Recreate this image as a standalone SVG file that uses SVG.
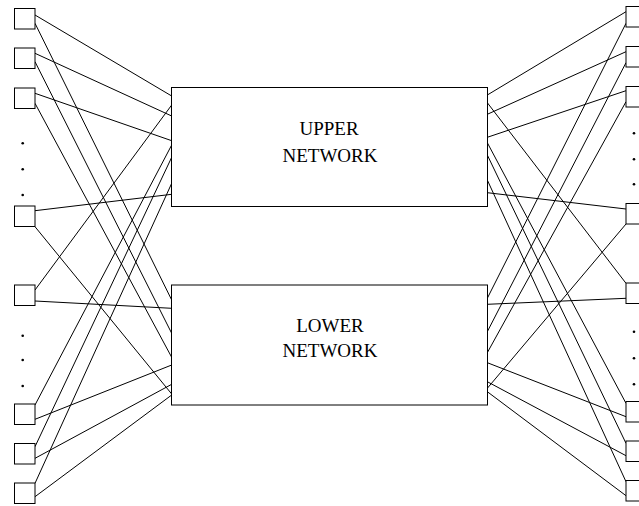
<svg xmlns="http://www.w3.org/2000/svg" width="639" height="506" viewBox="0 0 639 506">
  <style>
    .port { fill: #fff; stroke: #000; stroke-width: 1; }
    .net { fill: #fff; stroke: #000; stroke-width: 1; }
    .label { font-family: "Liberation Serif", "Times New Roman", serif; font-size: 19px; fill: #000; text-anchor: middle; }
    .link { stroke: #000; stroke-width: 1; fill: none; }
    .dot { fill: #000; }
  </style>
  <rect width="639" height="506" fill="#fff"/>

  <!-- wiring between the terminals and the two networks -->
  <g id="connectors" class="link">
    <!-- left terminals, top group -->
    <line x1="35" y1="15" x2="171.7" y2="96"/>
    <line x1="35" y1="23.3" x2="171.7" y2="300"/>
    <line x1="35" y1="53.3" x2="171.7" y2="116"/>
    <line x1="35" y1="61.7" x2="171.7" y2="333.3"/>
    <line x1="35" y1="93.3" x2="171.7" y2="140.7"/>
    <line x1="35" y1="103.3" x2="171.7" y2="357.3"/>
    <line x1="35" y1="210.7" x2="171.7" y2="194.3"/>
    <line x1="35" y1="226.7" x2="171.7" y2="394"/>
    <!-- left terminals, bottom group -->
    <line x1="35" y1="290" x2="171.7" y2="105"/>
    <line x1="35" y1="301" x2="171.7" y2="308.3"/>
    <line x1="35" y1="405" x2="171.7" y2="145"/>
    <line x1="35" y1="419.3" x2="171.7" y2="365"/>
    <line x1="35" y1="446.7" x2="171.7" y2="157.3"/>
    <line x1="35" y1="458.3" x2="171.7" y2="384.3"/>
    <line x1="35" y1="483.3" x2="171.7" y2="183.3"/>
    <line x1="35" y1="496.7" x2="171.7" y2="395"/>
    <!-- right terminals, top group -->
    <line x1="626" y1="11.7" x2="487.3" y2="95"/>
    <line x1="626" y1="23.3" x2="487.3" y2="298.3"/>
    <line x1="626" y1="51.7" x2="487.3" y2="114.3"/>
    <line x1="626" y1="62.7" x2="487.3" y2="331.7"/>
    <line x1="626" y1="90.7" x2="487.3" y2="137.3"/>
    <line x1="626" y1="101.7" x2="487.3" y2="352.7"/>
    <line x1="626" y1="209" x2="487.3" y2="192.7"/>
    <line x1="626" y1="224" x2="487.3" y2="388.3"/>
    <!-- right terminals, bottom group -->
    <line x1="626" y1="283.3" x2="487.3" y2="102.7"/>
    <line x1="626" y1="298.3" x2="487.3" y2="304.3"/>
    <line x1="626" y1="403.3" x2="487.3" y2="142.7"/>
    <line x1="626" y1="416.7" x2="487.3" y2="362.7"/>
    <line x1="626" y1="443.3" x2="487.3" y2="155"/>
    <line x1="626" y1="455.7" x2="487.3" y2="381.7"/>
    <line x1="626" y1="481.7" x2="487.3" y2="180"/>
    <line x1="626" y1="495.7" x2="487.3" y2="391.7"/>
  </g>

  <!-- switching networks -->
  <g id="upper-network">
    <rect class="net" x="171.5" y="87.5" width="316" height="119"/>
    <text class="label" x="329" y="135">UPPER</text>
    <text class="label" x="330" y="161.5">NETWORK</text>
  </g>
  <g id="lower-network">
    <rect class="net" x="171.5" y="285" width="316" height="120"/>
    <text class="label" x="330" y="331.5">LOWER</text>
    <text class="label" x="330" y="356.5">NETWORK</text>
  </g>

  <!-- left terminals -->
  <g id="in-1"><rect class="port" x="14.5" y="8.5" width="20.5" height="20.5"/></g>
  <g id="in-2"><rect class="port" x="14.5" y="48" width="20.5" height="20.5"/></g>
  <g id="in-3"><rect class="port" x="14.5" y="88" width="20.5" height="20.5"/></g>
  <g id="in-4"><rect class="port" x="14.5" y="206" width="20.5" height="20.5"/></g>
  <g id="in-5"><rect class="port" x="14.5" y="285" width="20.5" height="20.5"/></g>
  <g id="in-6"><rect class="port" x="14.5" y="404" width="20.5" height="20.5"/></g>
  <g id="in-7"><rect class="port" x="14.5" y="443.5" width="20.5" height="20.5"/></g>
  <g id="in-8"><rect class="port" x="14.5" y="483" width="20.5" height="20.5"/></g>

  <!-- right terminals -->
  <g id="out-1"><rect class="port" x="626" y="6.5" width="20.5" height="20.5"/></g>
  <g id="out-2"><rect class="port" x="626" y="46.5" width="20.5" height="20.5"/></g>
  <g id="out-3"><rect class="port" x="626" y="86.5" width="20.5" height="20.5"/></g>
  <g id="out-4"><rect class="port" x="626" y="203.5" width="20.5" height="20.5"/></g>
  <g id="out-5"><rect class="port" x="626" y="283" width="20.5" height="20.5"/></g>
  <g id="out-6"><rect class="port" x="626" y="401.5" width="20.5" height="20.5"/></g>
  <g id="out-7"><rect class="port" x="626" y="441" width="20.5" height="20.5"/></g>
  <g id="out-8"><rect class="port" x="626" y="480.5" width="20.5" height="20.5"/></g>

  <!-- elided terminals -->
  <g id="ellipses" class="dot">
    <circle cx="22.7" cy="143.3" r="1.3"/>
    <circle cx="22.7" cy="169.3" r="1.3"/>
    <circle cx="22.7" cy="195" r="1.3"/>
    <circle cx="22.7" cy="335.7" r="1.3"/>
    <circle cx="22.7" cy="360" r="1.3"/>
    <circle cx="22.7" cy="386" r="1.3"/>
    <circle cx="634" cy="133.3" r="1.3"/>
    <circle cx="634" cy="159.3" r="1.3"/>
    <circle cx="634" cy="184.3" r="1.3"/>
    <circle cx="634" cy="331.7" r="1.3"/>
    <circle cx="634" cy="358.3" r="1.3"/>
    <circle cx="634" cy="384.3" r="1.3"/>
  </g>
</svg>
